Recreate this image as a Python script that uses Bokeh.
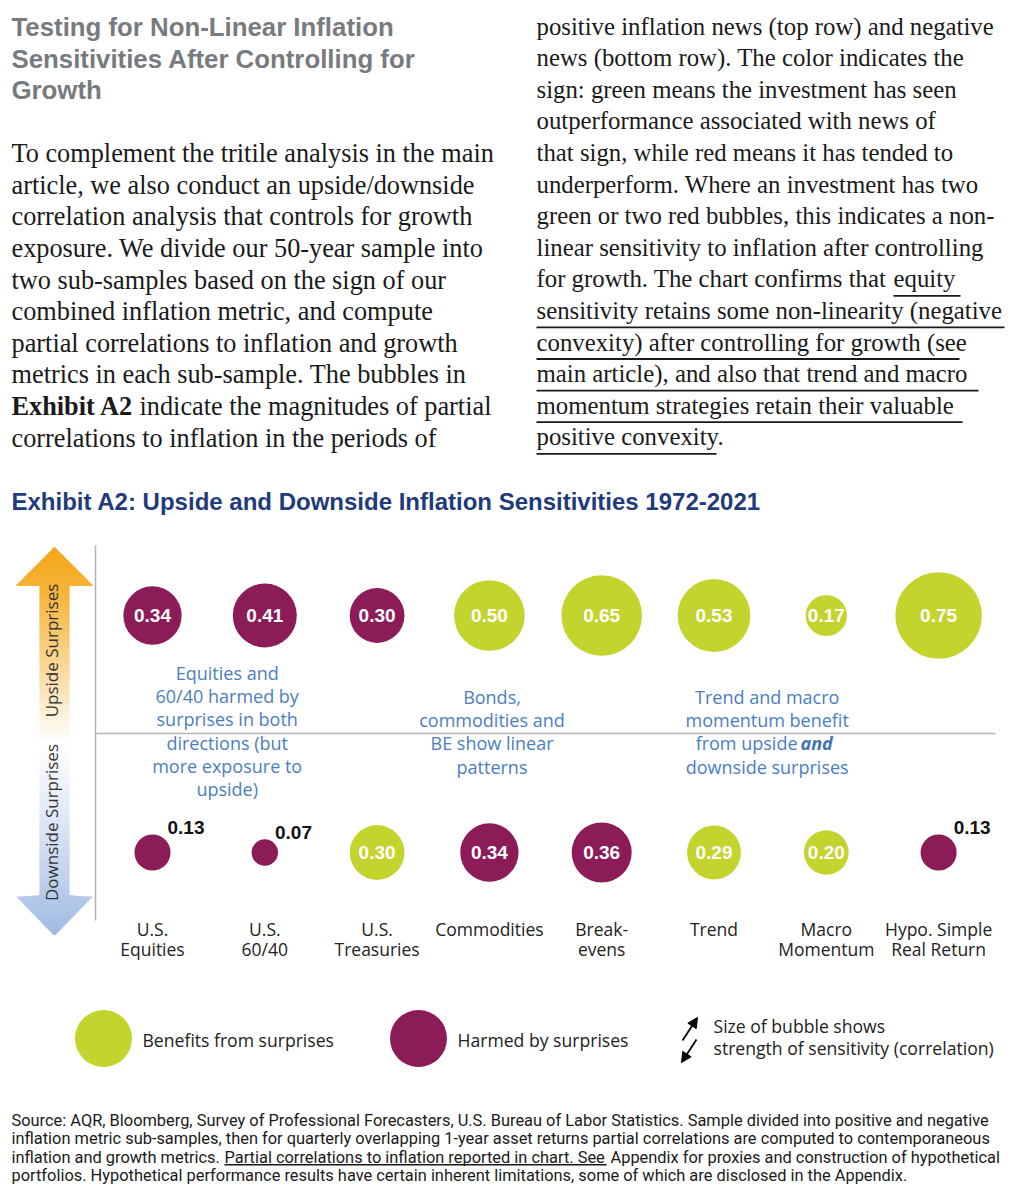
import numpy as np
from bokeh.plotting import figure
from bokeh.models import Range1d, ColumnDataSource, Arrow, NormalHead
from bokeh.core.properties import value
from bokeh.embed import file_html
from bokeh.resources import INLINE

# ---------------- data ----------------
categories = ["U.S.\nEquities", "U.S.\n60/40", "U.S.\nTreasuries", "Commodities",
              "Break-\nevens", "Trend", "Macro\nMomentum", "Hypo. Simple\nReal Return"]
upside_corr = [0.34, 0.41, 0.30, 0.50, 0.65, 0.53, 0.17, 0.75]
upside_effect = ["harmed", "harmed", "harmed", "benefits", "benefits", "benefits", "benefits", "benefits"]
downside_corr = [0.13, 0.07, 0.30, 0.34, 0.36, 0.29, 0.20, 0.13]
downside_effect = ["harmed", "harmed", "benefits", "harmed", "harmed", "benefits", "benefits", "harmed"]
rows = ["Upside Surprises", "Downside Surprises"]

header_lines = ["Testing for Non-Linear Inflation",
                "Sensitivities After Controlling for",
                "Growth"]
left_lines = ["To complement the tritile analysis in the main",
              "article, we also conduct an upside/downside",
              "correlation analysis that controls for growth",
              "exposure. We divide our 50-year sample into",
              "two sub-samples based on the sign of our",
              "combined inflation metric, and compute",
              "partial correlations to inflation and growth",
              "metrics in each sub-sample. The bubbles in",
              None,
              "correlations to inflation in the periods of"]
right_lines = ["positive inflation news (top row) and negative",
               "news (bottom row). The color indicates the",
               "sign: green means the investment has seen",
               "outperformance associated with news of",
               "that sign, while red means it has tended to",
               "underperform. Where an investment has two",
               "green or two red bubbles, this indicates a non-",
               "linear sensitivity to inflation after controlling",
               "for growth. The chart confirms that",
               "sensitivity retains some non-linearity (negative",
               "convexity) after controlling for growth (see",
               "main article), and also that trend and macro",
               "momentum strategies retain their valuable",
               "positive convexity."]
exhibit_title = "Exhibit A2: Upside and Downside Inflation Sensitivities 1972-2021"
note_blocks = [
    ["Equities and", "60/40 harmed by", "surprises in both", "directions (but", "more exposure to", "upside)"],
    ["Bonds,", "commodities and", "BE show linear", "patterns"],
    ["Trend and macro", "momentum benefit", None, "downside surprises"],
]
legend_labels = ["Benefits  from surprises", "Harmed by surprises"]
size_note = ["Size of bubble shows", "strength of sensitivity (correlation)"]
footnote_lines = [
    "Source: AQR, Bloomberg, Survey of Professional Forecasters, U.S. Bureau of Labor Statistics. Sample divided into positive and negative",
    "inflation metric sub-samples, then for quarterly overlapping 1-year asset returns partial correlations are computed to contemporaneous",
    None,
    "portfolios. Hypothetical performance results have certain inherent limitations, some of which are disclosed in the Appendix.",
]

# ---------------- styles ----------------
GREEN = "#C3D42F"
PURPLE = "#8B1C58"
BLUE_NOTE = "#4A7EBF"
NAVY = "#1F3B7B"
GRAY_HEAD = "#777B80"
INK = "#1A1A1A"
SERIF = "Liberation Serif"
SANS = "Liberation Sans"
LIGHT = "Open Sans"
FOOT = "Roboto"

W, H = 1007, 1184
p = figure(width=W, height=H, x_range=Range1d(0, W), y_range=Range1d(H, 0),
           output_backend="svg", toolbar_location=None, min_border=0)
p.axis.visible = False
p.grid.visible = False
p.outline_line_color = None
p.background_fill_color = "white"
p.border_fill_color = "white"

# bubble-grid ranges: category index on x, row (1 = upside, 0 = downside) on y
cx0, cdx = 152.0, 112.3
ry0, rdy = 852.0, 237.0
p.extra_x_ranges = {"cat": Range1d((0 - cx0) / cdx, (W - cx0) / cdx)}
p.extra_y_ranges = {"row": Range1d((ry0 - H) / rdy, (ry0 - 0) / rdy)}


def txt(x, y, s, size, color=INK, font=SANS, style="normal", align="left",
        baseline="middle", angle=0.0):
    p.text(x=[x], y=[y], text=[s], text_font=value(font), text_font_size=value(f"{size}px"),
           text_color=color, text_font_style=style, text_align=align,
           text_baseline=baseline, angle=angle)


# ---------------- header & body text ----------------
for i, s in enumerate(header_lines):
    txt(11, 26.5 + 31.5 * i, s, 25.8, GRAY_HEAD, SANS, "bold")

LH = 31.6
for i, s in enumerate(left_lines):
    y = 153.2 + LH * i
    if s is None:
        txt(11, y, "Exhibit A2", 26.3, INK, SERIF, "bold")
        txt(139, y, "indicate the magnitudes of partial", 26.3, INK, SERIF)
    else:
        txt(11, y, s, 26.3, INK, SERIF)

RS = 24.8
for i, s in enumerate(right_lines):
    txt(536, 25.6 + LH * i, s, RS, INK, SERIF)
txt(893, 25.6 + LH * 8, "equity", RS, INK, SERIF)
ul_x0 = [893, 536, 536, 536, 536, 536]
ul_x1 = [960, 1004, 959, 978, 962, 716]
ul_y = [34 + LH * k + 8.5 for k in range(8, 14)]
p.segment(x0=ul_x0, y0=ul_y, x1=ul_x1, y1=ul_y, line_color=INK, line_width=1.8)

txt(11, 500.6, exhibit_title, 24, NAVY, SANS, "bold")

# ---------------- gradient double arrow ----------------
ax, tip_top, base_top, base_bot, tip_bot = 54.0, 546.0, 584.0, 896.0, 935.0
head_hw, shaft_hw = 38.0, 15.0
stops_y = [546, 590, 665, 742, 820, 935]
stops_c = [(243, 165, 25), (245, 180, 55), (250, 215, 150), (255, 255, 255), (222, 231, 246), (160, 186, 227)]


def half_width(y):
    if y < base_top:
        return head_hw * (y - tip_top) / (base_top - tip_top)
    if y > base_bot:
        return head_hw * (tip_bot - y) / (tip_bot - base_bot)
    return shaft_hw


def colour_at(y):
    r = [np.interp(y, stops_y, [c[k] for c in stops_c]) for k in range(3)]
    return "#%02x%02x%02x" % tuple(int(round(v)) for v in r)


edges = np.linspace(tip_top, tip_bot, 261)
pxs, pys, pcs = [], [], []
for y0, y1 in zip(edges[:-1], edges[1:]):
    w0, w1 = half_width(y0), half_width(y1)
    if base_top > y0 and base_top < y1:
        w1 = w0 = head_hw
    yb = min(y1 + 0.7, tip_bot)
    pxs.append([ax - w0, ax + w0, ax + w1, ax - w1])
    pys.append([y0, y0, yb, yb])
    pcs.append(colour_at((y0 + y1) / 2))
p.patches(xs=pxs, ys=pys, fill_color=pcs, line_color=None)

txt(51, 650, rows[0], 17, "#333333", LIGHT, align="center", angle=np.pi / 2)
txt(51, 822, rows[1], 17, "#333333", LIGHT, align="center", angle=np.pi / 2)

# divider lines
p.segment(x0=[95, 95], y0=[545, 733], x1=[95, 995], y1=[920, 733], line_color="#B4B4B4", line_width=1.5)

# ---------------- bubbles ----------------
n = len(categories)
corr = upside_corr + downside_corr
eff = upside_effect + downside_effect
src = ColumnDataSource(dict(
    idx=list(range(n)) * 2,
    row=[1] * n + [0] * n,
    corr=corr,
    size=[100 * np.sqrt(v) for v in corr],
    color=[GREEN if e == "benefits" else PURPLE for e in eff],
    label=[f"{v:.2f}" for v in corr],
))
p.scatter(x="idx", y="row", size="size", fill_color="color", line_color=None,
          source=src, x_range_name="cat", y_range_name="row")

inside = [i for i, v in enumerate(corr) if v >= 0.15]
outside = [i for i, v in enumerate(corr) if v < 0.15]
src_in = ColumnDataSource(dict(idx=[src.data["idx"][i] for i in inside],
                               row=[src.data["row"][i] for i in inside],
                               label=[src.data["label"][i] for i in inside]))
p.text(x="idx", y="row", text="label", source=src_in, x_range_name="cat", y_range_name="row",
       text_font=value(SANS), text_font_size=value("19px"), text_font_style="bold",
       text_color="white", text_align="center", text_baseline="middle")
radii = [src.data["size"][i] / 2 for i in outside]
src_out = ColumnDataSource(dict(idx=[src.data["idx"][i] for i in outside],
                                row=[src.data["row"][i] for i in outside],
                                label=[src.data["label"][i] for i in outside],
                                dx=[r - 3 for r in radii],
                                dy=[-(r + 7) for r in radii]))
p.text(x="idx", y="row", text="label", source=src_out, x_range_name="cat", y_range_name="row",
       x_offset="dx", y_offset="dy",
       text_font=value(SANS), text_font_size=value("19px"), text_font_style="bold",
       text_color="#111111", text_align="left", text_baseline="middle")

# category labels
line1 = [c.split("\n")[0] for c in categories]
line2 = [c.split("\n")[1] if "\n" in c else "" for c in categories]
p.text(x=list(range(n)), y=[928.8] * n, text=line1, x_range_name="cat",
       text_font=value(LIGHT), text_font_size=value("17.5px"), text_color="#222222",
       text_align="center", text_baseline="middle")
p.text(x=list(range(n)), y=[948.8] * n, text=line2, x_range_name="cat",
       text_font=value(LIGHT), text_font_size=value("17.5px"), text_color="#222222",
       text_align="center", text_baseline="middle")

# blue annotations
block_x = [226.7, 491.5, 766.7]
block_y0 = [672.7, 696.7, 696.7]
for bx, by, lines in zip(block_x, block_y0, note_blocks):
    for k, s in enumerate(lines):
        y = by + 23.1 * k
        if s is None:
            txt(797, y, "from upside", 18, BLUE_NOTE, LIGHT, align="right")
            txt(800, y, "and", 18, "#3F72B5", LIGHT, "bold italic")
        else:
            txt(bx, y, s, 18, BLUE_NOTE, LIGHT, align="center")

# ---------------- legend ----------------
p.scatter(x=[103, 418], y=[1038, 1038], size=57, fill_color=[GREEN, PURPLE], line_color=None)
txt(142, 1039.5, legend_labels[0], 17.6, "#222222", LIGHT)
txt(457, 1039.5, legend_labels[1], 17.6, "#222222", LIGHT)
txt(713, 1025, size_note[0], 17.6, "#222222", LIGHT)
txt(713, 1047, size_note[1], 17.6, "#222222", LIGHT)
for (x0, y0, x1, y1) in [(682, 1040, 697, 1017), (696, 1039, 681, 1062)]:
    p.add_layout(Arrow(end=NormalHead(size=10, fill_color="black", line_color="black"),
                       x_start=x0, y_start=y0, x_end=x1, y_end=y1,
                       line_color="black", line_width=1.8))

# ---------------- footnote ----------------
FS = 16.4
for k, s in enumerate(footnote_lines):
    y = 1119.5 + 18.5 * k
    if s is None:
        txt(11, y, "inflation and growth metrics.", FS, INK, FOOT)
        txt(224, y, "Partial correlations to inflation reported in chart. See", FS, INK, FOOT)
        txt(610, y, "Appendix for proxies and construction of hypothetical", FS, INK, FOOT)
        p.segment(x0=[224], y0=[y + 7.8], x1=[606], y1=[y + 7.8], line_color=INK, line_width=1.5)
    else:
        txt(11, y, s, FS, INK, FOOT)

open("out.html", "w").write(file_html(p, INLINE))
